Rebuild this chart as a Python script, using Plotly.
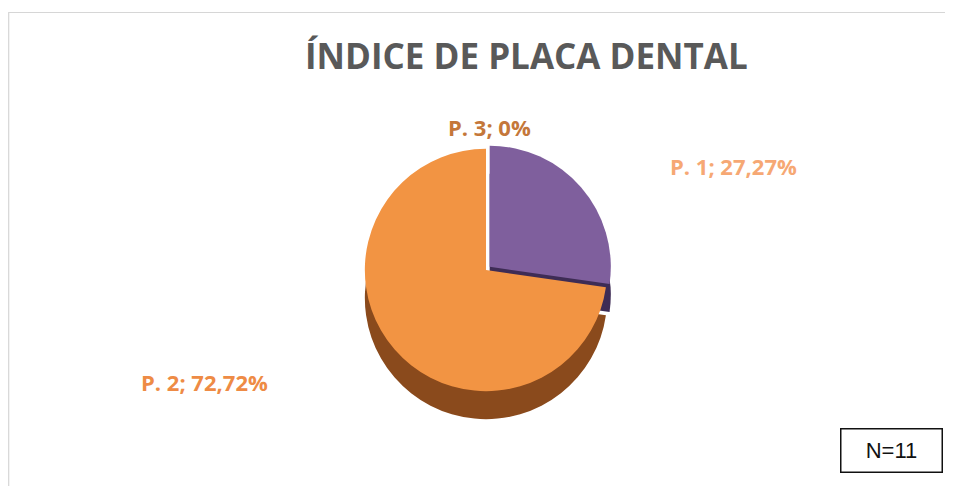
import plotly.graph_objects as go

# Data
categories = ["P. 1", "P. 2", "P. 3"]
values = [27.27, 72.72, 0]
title_text = "ÍNDICE DE PLACA DENTAL"
n_text = "N=11"

top_colors = ["#7F5F9D", "#F29443", "#C9C9C9"]
side_colors = ["#3E2C55", "#8A4A1C", "#888888"]
label_colors = ["#F6A874", "#EE8B45", "#C4773A"]

def fmt(v):
    if float(v).is_integer():
        return f"{int(v)}%"
    return f"{v:.2f}".replace(".", ",") + "%"

# page body has an 8px margin; work in screen px and shift
OFF = 8
W, H = 953 - OFF, 486 - OFF

def px(x):
    return (x - OFF) / W

def py(y):
    return 1 - (y - OFF) / H

cx, cy, r = 486, 270, 126
depth = 28

def dom(cx, cy, r):
    return dict(x=[px(cx - r), px(cx + r)], y=[py(cy + r), py(cy - r)])

fig = go.Figure()
# side (extrusion) layer
fig.add_trace(go.Pie(
    labels=categories, values=values, sort=False, direction="clockwise", rotation=0,
    marker=dict(colors=side_colors, line=dict(width=0)),
    pull=[0.04, 0, 0], textinfo="none", hoverinfo="skip", showlegend=False,
    domain=dom(cx, cy + depth, r)))
# top face
fig.add_trace(go.Pie(
    labels=categories, values=values, sort=False, direction="clockwise", rotation=0,
    marker=dict(colors=top_colors, line=dict(width=0)),
    pull=[0.04, 0, 0], textinfo="none", showlegend=False,
    domain=dom(cx, cy, r)))

label_pos = {"P. 1": (733, 166), "P. 2": (204, 382), "P. 3": (489, 127)}
annotations = []
for cat, v, col in zip(categories, values, label_colors):
    x, y = label_pos[cat]
    annotations.append(dict(
        text=f"{cat}; {fmt(v)}", x=px(x), y=py(y), xref="paper", yref="paper",
        xanchor="center", yanchor="middle", showarrow=False,
        font=dict(family="Open Sans", size=22, color=col, weight="bold")))

annotations.append(dict(
    text=n_text, x=px(891.5), y=py(450.5), xref="paper", yref="paper", showarrow=False,
    xanchor="center", yanchor="middle",
    font=dict(family="Liberation Sans, Arial", size=22, color="#111111"),
    bordercolor="#111111", borderwidth=1.5, borderpad=0, bgcolor="white",
    width=100, height=42))

annotations.append(dict(
    text=f"<b>{title_text}</b>", x=px(526), y=py(55), xref="paper", yref="paper",
    xanchor="center", yanchor="middle",
    showarrow=False, font=dict(family="Open Sans", size=35, color="#595959")))

fig.update_layout(
    width=W, height=H, margin=dict(l=0, r=0, t=0, b=0),
    paper_bgcolor="white", plot_bgcolor="white",
    annotations=annotations,
    shapes=[dict(type="rect", xref="paper", yref="paper",
                 x0=px(8.7), x1=1.05, y0=-0.05, y1=py(12.5),
                 line=dict(color="#D6D6D6", width=1.2))],
)

fig.write_html("out.html")
